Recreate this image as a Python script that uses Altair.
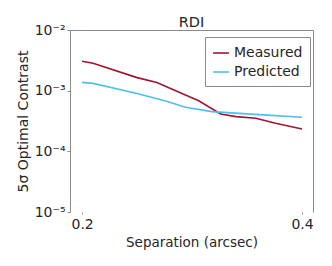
import altair as alt
import pandas as pd

meas_x = [0.200, 0.210, 0.250, 0.268, 0.294, 0.306, 0.326, 0.340, 0.358, 0.376, 0.400]
meas_y = [3.05e-3, 2.83e-3, 1.64e-3, 1.36e-3, 8.5e-4, 6.8e-4, 4.13e-4, 3.73e-4, 3.51e-4, 2.90e-4, 2.34e-4]
pred_x = [0.200, 0.210, 0.250, 0.276, 0.294, 0.318, 0.350, 0.400]
pred_y = [1.37e-3, 1.32e-3, 9.0e-4, 6.76e-4, 5.33e-4, 4.51e-4, 4.15e-4, 3.65e-4]
series = ["Measured", "Predicted"]
colors = ["#A2142F", "#4DBEEE"]
x_ticks = [0.2, 0.4]
y_ticks = [1e-5, 1e-4, 1e-3, 1e-2]

df = pd.concat([
    pd.DataFrame({"sep": meas_x, "contrast": meas_y, "series": series[0]}),
    pd.DataFrame({"sep": pred_x, "contrast": pred_y, "series": series[1]}),
])

FONT = "DejaVu Sans"
GRAY = "#262626"
AX = "#8a8a8a"

xscale = alt.Scale(domain=[0.189, 0.41], nice=False, zero=False)
yscale = alt.Scale(type="log", domain=[1e-5, 1e-2], nice=False)

lines = alt.Chart(df).mark_line(strokeWidth=1.6).encode(
    x=alt.X("sep:Q", scale=xscale,
            axis=alt.Axis(title="Separation (arcsec)", values=x_ticks, format=".1f",
                          domain=False, grid=False, tickSize=2, tickColor=AX,
                          labelFontSize=14, labelColor=GRAY, titleFontSize=13.5,
                          titleFontWeight="normal", titleColor=GRAY, labelPadding=3,
                          titlePadding=4, labelFont=FONT, titleFont=FONT)),
    y=alt.Y("contrast:Q", scale=yscale,
            axis=alt.Axis(title="5σ Optimal Contrast", values=y_ticks,
                          labelExpr="'10⁻' + ['','¹','²','³','⁴','⁵'][round(-log(datum.value)/LN10)]",
                          domain=True, domainColor=AX, grid=False, tickSize=3, tickColor=AX,
                          labelFontSize=14, labelColor=GRAY, titleFontSize=14,
                          titleFontWeight="normal", titleColor=GRAY, labelPadding=2,
                          titlePadding=4, labelFont=FONT, titleFont=FONT)),
    color=alt.Color("series:N", scale=alt.Scale(domain=series, range=colors),
                    legend=alt.Legend(title=None, orient="none", legendX=135, legendY=7,
                                      strokeColor=AX, padding=7, fillColor="white",
                                      symbolType="stroke", symbolSize=250, symbolStrokeWidth=1.6,
                                      labelFontSize=14, labelColor=GRAY, labelFont=FONT,
                                      rowPadding=3, labelLimit=200)),
)

frame = alt.Chart(df).mark_line(opacity=0).encode(
    x=alt.X("sep:Q", scale=xscale,
            axis=alt.Axis(orient="top", title=None, labels=False, ticks=False,
                          domain=True, domainColor=AX, grid=False,
                          minExtent=0, maxExtent=0)),
    y=alt.Y("contrast:Q", scale=yscale,
            axis=alt.Axis(orient="right", title=None, labels=False, ticks=False,
                          domain=True, domainColor=AX, grid=False,
                          minExtent=0, maxExtent=0)),
)

chart = alt.layer(lines, frame).resolve_axis(x="independent", y="independent").properties(
    width=243, height=182,
    title=alt.TitleParams("RDI", fontSize=14.5, fontWeight="normal", color=GRAY, font=FONT,
                          offset=5, dy=12),
    autosize=alt.AutoSizeParams(type="none"),
    padding={"left": 62, "top": 22, "right": 11, "bottom": 46},
).configure_view(stroke=None)

chart.save("out.html", embed_options={"renderer": "svg", "actions": False})
